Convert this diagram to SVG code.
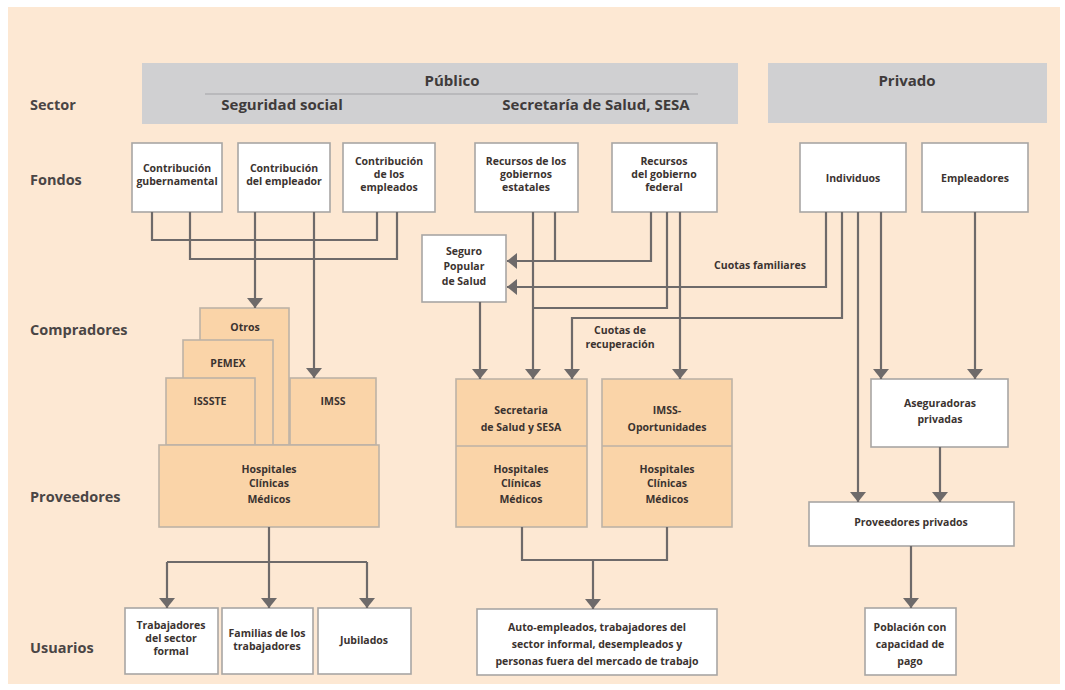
<svg xmlns="http://www.w3.org/2000/svg" width="1065" height="690" viewBox="0 0 1065 690">
<style>
text{font-family:"Open Sans","Noto Sans","Liberation Sans",sans-serif;font-weight:bold;fill:#3b3330;text-anchor:middle}
.row{font-size:14.5px;fill:#4a4545;text-anchor:start}
.hdr{font-size:15px;fill:#3f3b3b}
.t{font-size:10.5px}
.w{fill:#fff;stroke:#a8a6a4;stroke-width:1.6}
.o{fill:#fad4a8;stroke:#bdb2a6;stroke-width:1.6}
.band{fill:#d0d0d2}
.c path{fill:none;stroke:#6e6a6a;stroke-width:2.2}
.c path.a{marker-end:url(#ah)}
</style>
<defs>
<marker id="ah" viewBox="0 0 10 10" refX="10" refY="5" markerWidth="10" markerHeight="16" markerUnits="userSpaceOnUse" orient="auto" preserveAspectRatio="none">
<path d="M0,0 L10,5 L0,10 z" fill="#6e6a6a"/>
</marker>
</defs>
<rect x="0" y="0" width="1065" height="690" fill="#fff"/>
<rect x="8" y="7" width="1052" height="677" fill="#fde8d3"/>

<g id="row-labels">
<text class="row" x="30" y="110">Sector</text>
<text class="row" x="30" y="185">Fondos</text>
<text class="row" x="30" y="335">Compradores</text>
<text class="row" x="30" y="502">Proveedores</text>
<text class="row" x="30" y="653">Usuarios</text>
</g>

<g id="sector-publico">
<rect class="band" x="142" y="63" width="596" height="61"/>
<line x1="205" y1="94" x2="698" y2="94" stroke="#b9b9bc" stroke-width="2"/>
<text class="hdr" x="452" y="86">Público</text>
<text class="hdr" x="282" y="110">Seguridad social</text>
<text class="hdr" x="596" y="110">Secretaría de Salud, SESA</text>
</g>
<g id="sector-privado">
<rect class="band" x="768" y="63" width="279" height="60"/>
<text class="hdr" x="907" y="86">Privado</text>
</g>

<g id="f-gub"><rect class="w" x="132" y="143" width="90" height="69"/>
<text class="t" x="177" y="172">Contribución</text><text class="t" x="177" y="185">gubernamental</text></g>
<g id="f-empleador"><rect class="w" x="238" y="143" width="92" height="69"/>
<text class="t" x="284" y="172">Contribución</text><text class="t" x="284" y="185">del empleador</text></g>
<g id="f-empleados"><rect class="w" x="343" y="143" width="92" height="69"/>
<text class="t" x="389" y="165">Contribución</text><text class="t" x="389" y="178">de los</text><text class="t" x="389" y="191">empleados</text></g>
<g id="f-estatales"><rect class="w" x="475" y="143" width="103" height="69"/>
<text class="t" x="526" y="165">Recursos de los</text><text class="t" x="526" y="178">gobiernos</text><text class="t" x="526" y="191">estatales</text></g>
<g id="f-federal"><rect class="w" x="612" y="143" width="105" height="69"/>
<text class="t" x="664" y="165">Recursos</text><text class="t" x="664" y="178">del gobierno</text><text class="t" x="664" y="191">federal</text></g>
<g id="f-individuos"><rect class="w" x="800" y="143" width="106" height="69"/>
<text class="t" x="853" y="182">Individuos</text></g>
<g id="f-empleadores"><rect class="w" x="922" y="143" width="106" height="69"/>
<text class="t" x="975" y="182">Empleadores</text></g>

<g id="seguro-popular"><rect class="w" x="422" y="235" width="84" height="67"/>
<text class="t" x="464" y="255">Seguro</text><text class="t" x="464" y="270">Popular</text><text class="t" x="464" y="285">de Salud</text></g>

<g id="otros"><rect class="o" x="200" y="308" width="89" height="137"/><text class="t" x="245" y="331">Otros</text></g>
<g id="pemex"><rect class="o" x="183" y="340" width="90" height="105"/><text class="t" x="228" y="367">PEMEX</text></g>
<g id="issste"><rect class="o" x="166" y="378" width="89" height="67"/><text class="t" x="210" y="405">ISSSTE</text></g>
<g id="imss"><rect class="o" x="290" y="378" width="86" height="67"/><text class="t" x="333" y="405">IMSS</text></g>
<g id="hosp-ss"><rect class="o" x="159" y="445" width="220" height="82"/>
<text class="t" x="269" y="473">Hospitales</text><text class="t" x="269" y="487">Clínicas</text><text class="t" x="269" y="503">Médicos</text></g>

<g id="ssa"><rect class="o" x="456" y="379" width="131" height="148"/>
<line x1="456" y1="446" x2="587" y2="446" stroke="#bdb2a6" stroke-width="1.6"/>
<text class="t" x="521" y="414">Secretaria</text><text class="t" x="521" y="431">de Salud y SESA</text>
<text class="t" x="521" y="473">Hospitales</text><text class="t" x="521" y="487">Clínicas</text><text class="t" x="521" y="503">Médicos</text></g>
<g id="imss-op"><rect class="o" x="602" y="379" width="130" height="148"/>
<line x1="602" y1="446" x2="732" y2="446" stroke="#bdb2a6" stroke-width="1.6"/>
<text class="t" x="667" y="414">IMSS-</text><text class="t" x="667" y="431">Oportunidades</text>
<text class="t" x="667" y="473">Hospitales</text><text class="t" x="667" y="487">Clínicas</text><text class="t" x="667" y="503">Médicos</text></g>

<g id="aseguradoras"><rect class="w" x="871" y="379" width="137" height="68"/>
<text class="t" x="940" y="407">Aseguradoras</text><text class="t" x="940" y="423">privadas</text></g>
<g id="prov-privados"><rect class="w" x="809" y="502" width="205" height="44"/>
<text class="t" x="911" y="526">Proveedores privados</text></g>

<g id="u-trabajadores"><rect class="w" x="125" y="608" width="93" height="66"/>
<text class="t" x="171" y="629">Trabajadores</text><text class="t" x="171" y="642">del sector</text><text class="t" x="171" y="655">formal</text></g>
<g id="u-familias"><rect class="w" x="222" y="608" width="91" height="66"/>
<text class="t" x="267" y="637">Familias de los</text><text class="t" x="267" y="650">trabajadores</text></g>
<g id="u-jubilados"><rect class="w" x="318" y="608" width="93" height="66"/>
<text class="t" x="364" y="644">Jubilados</text></g>
<g id="u-informal"><rect class="w" x="477" y="609" width="240" height="66"/>
<text class="t" x="597" y="631">Auto-empleados, trabajadores del</text><text class="t" x="597" y="648">sector informal, desempleados y</text><text class="t" x="597" y="665">personas fuera del mercado de trabajo</text></g>
<g id="u-poblacion"><rect class="w" x="865" y="608" width="91" height="67"/>
<text class="t" x="910" y="631">Población con</text><text class="t" x="910" y="648">capacidad de</text><text class="t" x="910" y="665">pago</text></g>

<g id="connectors" class="c">
<path d="M152,212 V240 H377 V212"/>
<path d="M190,212 V259 H397 V212"/>
<path class="a" d="M255,212 V308"/>
<path class="a" d="M314,212 V378"/>
<path class="a" d="M269,527 V608"/>
<path d="M167,562 H367"/>
<path class="a" d="M167,562 V608"/>
<path class="a" d="M367,562 V608"/>
<path class="a" d="M533,212 V379"/>
<path d="M555,212 V261"/>
<path class="a" d="M651,212 V261 H507"/>
<path d="M667,212 V308 H533"/>
<path class="a" d="M680,212 V379"/>
<path class="a" d="M826,212 V287 H507"/>
<path class="a" d="M842,212 V318 H572 V379"/>
<path class="a" d="M480,302 V379"/>
<path d="M522,527 V560 H667 V527"/>
<path class="a" d="M593,560 V609"/>
<path class="a" d="M858,212 V502"/>
<path class="a" d="M881,212 V379"/>
<path class="a" d="M975,212 V379"/>
<path class="a" d="M940,447 V502"/>
<path class="a" d="M911,546 V608"/>
</g>
<g id="connector-labels">
<text class="t" x="760" y="269">Cuotas familiares</text>
<text class="t" x="620" y="334">Cuotas de</text>
<text class="t" x="620" y="348">recuperación</text>
</g>
</svg>
